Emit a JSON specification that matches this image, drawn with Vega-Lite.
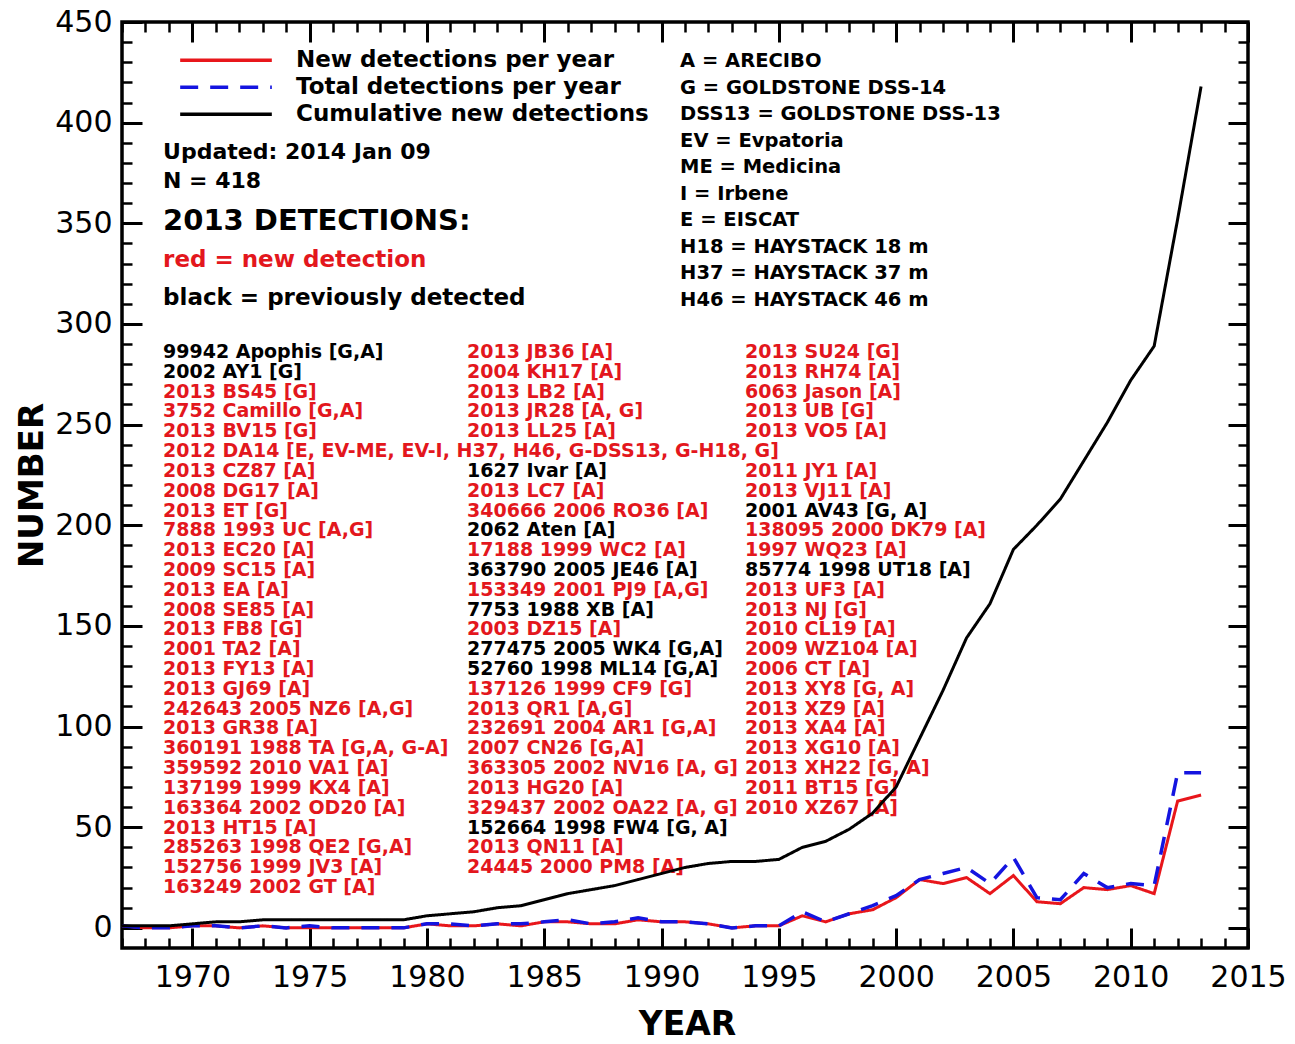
{
  "$schema": "https://vega.github.io/schema/vega-lite/v6.json",
  "width": 1126,
  "height": 926,
  "autosize": {"type": "none"},
  "padding": {"left": 122, "top": 22, "right": 47, "bottom": 96},
  "background": "white",
  "config": {
    "view": {"stroke": "black", "strokeWidth": 3.5},
    "font": "DejaVu Sans",
    "axis": {"domain": false, "grid": false, "tickColor": "black", "labelColor": "black", "titleColor": "black", "labelFont": "DejaVu Sans", "titleFont": "DejaVu Sans"},
    "text": {"font": "DejaVu Sans"}
  },
  "datasets": {
    "years": [
      {"year": 1967, "new": 1, "total": 1, "cumulative": 1},
      {"year": 1968, "new": 0, "total": 0, "cumulative": 1},
      {"year": 1969, "new": 0, "total": 0, "cumulative": 1},
      {"year": 1970, "new": 1, "total": 1, "cumulative": 2},
      {"year": 1971, "new": 1, "total": 1, "cumulative": 3},
      {"year": 1972, "new": 0, "total": 0, "cumulative": 3},
      {"year": 1973, "new": 1, "total": 1, "cumulative": 4},
      {"year": 1974, "new": 0, "total": 0, "cumulative": 4},
      {"year": 1975, "new": 0, "total": 1, "cumulative": 4},
      {"year": 1976, "new": 0, "total": 0, "cumulative": 4},
      {"year": 1977, "new": 0, "total": 0, "cumulative": 4},
      {"year": 1978, "new": 0, "total": 0, "cumulative": 4},
      {"year": 1979, "new": 0, "total": 0, "cumulative": 4},
      {"year": 1980, "new": 2, "total": 2, "cumulative": 6},
      {"year": 1981, "new": 1, "total": 2, "cumulative": 7},
      {"year": 1982, "new": 1, "total": 1, "cumulative": 8},
      {"year": 1983, "new": 2, "total": 2, "cumulative": 10},
      {"year": 1984, "new": 1, "total": 2, "cumulative": 11},
      {"year": 1985, "new": 3, "total": 3, "cumulative": 14},
      {"year": 1986, "new": 3, "total": 4, "cumulative": 17},
      {"year": 1987, "new": 2, "total": 2, "cumulative": 19},
      {"year": 1988, "new": 2, "total": 3, "cumulative": 21},
      {"year": 1989, "new": 4, "total": 5, "cumulative": 24},
      {"year": 1990, "new": 3, "total": 3, "cumulative": 27},
      {"year": 1991, "new": 3, "total": 3, "cumulative": 30},
      {"year": 1992, "new": 2, "total": 2, "cumulative": 32},
      {"year": 1993, "new": 0, "total": 0, "cumulative": 33},
      {"year": 1994, "new": 1, "total": 1, "cumulative": 33},
      {"year": 1995, "new": 1, "total": 1, "cumulative": 34},
      {"year": 1996, "new": 6, "total": 8, "cumulative": 40},
      {"year": 1997, "new": 3, "total": 3, "cumulative": 43},
      {"year": 1998, "new": 7, "total": 7, "cumulative": 49},
      {"year": 1999, "new": 9, "total": 11, "cumulative": 57},
      {"year": 2000, "new": 15, "total": 16, "cumulative": 70},
      {"year": 2001, "new": 24, "total": 24, "cumulative": 94},
      {"year": 2002, "new": 22, "total": 27, "cumulative": 118},
      {"year": 2003, "new": 25, "total": 30, "cumulative": 144},
      {"year": 2004, "new": 17, "total": 22, "cumulative": 161},
      {"year": 2005, "new": 26, "total": 35, "cumulative": 188},
      {"year": 2006, "new": 13, "total": 15, "cumulative": 200},
      {"year": 2007, "new": 12, "total": 14, "cumulative": 213},
      {"year": 2008, "new": 20, "total": 27, "cumulative": 232},
      {"year": 2009, "new": 19, "total": 20, "cumulative": 251},
      {"year": 2010, "new": 21, "total": 22, "cumulative": 272},
      {"year": 2011, "new": 17, "total": 21, "cumulative": 289},
      {"year": 2012, "new": 63, "total": 77, "cumulative": 352},
      {"year": 2013, "new": 66, "total": 77, "cumulative": 418}
    ],
    "asteroids": [
      {"name": "99942 Apophis [G,A]", "status": "previous", "column": 1, "line": 1},
      {"name": "2002 AY1 [G]", "status": "previous", "column": 1, "line": 2},
      {"name": "2013 BS45 [G]", "status": "new", "column": 1, "line": 3},
      {"name": "3752 Camillo [G,A]", "status": "new", "column": 1, "line": 4},
      {"name": "2013 BV15 [G]", "status": "new", "column": 1, "line": 5},
      {"name": "2012 DA14 [E, EV-ME, EV-I, H37, H46, G-DSS13, G-H18, G]", "status": "new", "column": 1, "line": 6},
      {"name": "2013 CZ87 [A]", "status": "new", "column": 1, "line": 7},
      {"name": "2008 DG17 [A]", "status": "new", "column": 1, "line": 8},
      {"name": "2013 ET [G]", "status": "new", "column": 1, "line": 9},
      {"name": "7888 1993 UC [A,G]", "status": "new", "column": 1, "line": 10},
      {"name": "2013 EC20 [A]", "status": "new", "column": 1, "line": 11},
      {"name": "2009 SC15 [A]", "status": "new", "column": 1, "line": 12},
      {"name": "2013 EA [A]", "status": "new", "column": 1, "line": 13},
      {"name": "2008 SE85 [A]", "status": "new", "column": 1, "line": 14},
      {"name": "2013 FB8 [G]", "status": "new", "column": 1, "line": 15},
      {"name": "2001 TA2 [A]", "status": "new", "column": 1, "line": 16},
      {"name": "2013 FY13 [A]", "status": "new", "column": 1, "line": 17},
      {"name": "2013 GJ69 [A]", "status": "new", "column": 1, "line": 18},
      {"name": "242643 2005 NZ6 [A,G]", "status": "new", "column": 1, "line": 19},
      {"name": "2013 GR38 [A]", "status": "new", "column": 1, "line": 20},
      {"name": "360191 1988 TA [G,A, G-A]", "status": "new", "column": 1, "line": 21},
      {"name": "359592 2010 VA1 [A]", "status": "new", "column": 1, "line": 22},
      {"name": "137199 1999 KX4 [A]", "status": "new", "column": 1, "line": 23},
      {"name": "163364 2002 OD20 [A]", "status": "new", "column": 1, "line": 24},
      {"name": "2013 HT15 [A]", "status": "new", "column": 1, "line": 25},
      {"name": "285263 1998 QE2 [G,A]", "status": "new", "column": 1, "line": 26},
      {"name": "152756 1999 JV3 [A]", "status": "new", "column": 1, "line": 27},
      {"name": "163249 2002 GT [A]", "status": "new", "column": 1, "line": 28},
      {"name": "2013 JB36 [A]", "status": "new", "column": 2, "line": 1},
      {"name": "2004 KH17 [A]", "status": "new", "column": 2, "line": 2},
      {"name": "2013 LB2 [A]", "status": "new", "column": 2, "line": 3},
      {"name": "2013 JR28 [A, G]", "status": "new", "column": 2, "line": 4},
      {"name": "2013 LL25 [A]", "status": "new", "column": 2, "line": 5},
      {"name": "1627 Ivar [A]", "status": "previous", "column": 2, "line": 7},
      {"name": "2013 LC7 [A]", "status": "new", "column": 2, "line": 8},
      {"name": "340666 2006 RO36 [A]", "status": "new", "column": 2, "line": 9},
      {"name": "2062 Aten [A]", "status": "previous", "column": 2, "line": 10},
      {"name": "17188 1999 WC2 [A]", "status": "new", "column": 2, "line": 11},
      {"name": "363790 2005 JE46 [A]", "status": "previous", "column": 2, "line": 12},
      {"name": "153349 2001 PJ9 [A,G]", "status": "new", "column": 2, "line": 13},
      {"name": "7753 1988 XB [A]", "status": "previous", "column": 2, "line": 14},
      {"name": "2003 DZ15 [A]", "status": "new", "column": 2, "line": 15},
      {"name": "277475 2005 WK4 [G,A]", "status": "previous", "column": 2, "line": 16},
      {"name": "52760 1998 ML14 [G,A]", "status": "previous", "column": 2, "line": 17},
      {"name": "137126 1999 CF9 [G]", "status": "new", "column": 2, "line": 18},
      {"name": "2013 QR1 [A,G]", "status": "new", "column": 2, "line": 19},
      {"name": "232691 2004 AR1 [G,A]", "status": "new", "column": 2, "line": 20},
      {"name": "2007 CN26 [G,A]", "status": "new", "column": 2, "line": 21},
      {"name": "363305 2002 NV16 [A, G]", "status": "new", "column": 2, "line": 22},
      {"name": "2013 HG20 [A]", "status": "new", "column": 2, "line": 23},
      {"name": "329437 2002 OA22 [A, G]", "status": "new", "column": 2, "line": 24},
      {"name": "152664 1998 FW4 [G, A]", "status": "previous", "column": 2, "line": 25},
      {"name": "2013 QN11 [A]", "status": "new", "column": 2, "line": 26},
      {"name": "24445 2000 PM8 [A]", "status": "new", "column": 2, "line": 27},
      {"name": "2013 SU24 [G]", "status": "new", "column": 3, "line": 1},
      {"name": "2013 RH74 [A]", "status": "new", "column": 3, "line": 2},
      {"name": "6063 Jason [A]", "status": "new", "column": 3, "line": 3},
      {"name": "2013 UB [G]", "status": "new", "column": 3, "line": 4},
      {"name": "2013 VO5 [A]", "status": "new", "column": 3, "line": 5},
      {"name": "2011 JY1 [A]", "status": "new", "column": 3, "line": 7},
      {"name": "2013 VJ11 [A]", "status": "new", "column": 3, "line": 8},
      {"name": "2001 AV43 [G, A]", "status": "previous", "column": 3, "line": 9},
      {"name": "138095 2000 DK79 [A]", "status": "new", "column": 3, "line": 10},
      {"name": "1997 WQ23 [A]", "status": "new", "column": 3, "line": 11},
      {"name": "85774 1998 UT18 [A]", "status": "previous", "column": 3, "line": 12},
      {"name": "2013 UF3 [A]", "status": "new", "column": 3, "line": 13},
      {"name": "2013 NJ [G]", "status": "new", "column": 3, "line": 14},
      {"name": "2010 CL19 [A]", "status": "new", "column": 3, "line": 15},
      {"name": "2009 WZ104 [A]", "status": "new", "column": 3, "line": 16},
      {"name": "2006 CT [A]", "status": "new", "column": 3, "line": 17},
      {"name": "2013 XY8 [G, A]", "status": "new", "column": 3, "line": 18},
      {"name": "2013 XZ9 [A]", "status": "new", "column": 3, "line": 19},
      {"name": "2013 XA4 [A]", "status": "new", "column": 3, "line": 20},
      {"name": "2013 XG10 [A]", "status": "new", "column": 3, "line": 21},
      {"name": "2013 XH22 [G, A]", "status": "new", "column": 3, "line": 22},
      {"name": "2011 BT15 [G]", "status": "new", "column": 3, "line": 23},
      {"name": "2010 XZ67 [A]", "status": "new", "column": 3, "line": 24}
    ],
    "stations": [
      {"label": "A = ARECIBO", "line": 1},
      {"label": "G = GOLDSTONE DSS-14", "line": 2},
      {"label": "DSS13 = GOLDSTONE DSS-13", "line": 3},
      {"label": "EV = Evpatoria", "line": 4},
      {"label": "ME = Medicina", "line": 5},
      {"label": "I = Irbene", "line": 6},
      {"label": "E = EISCAT", "line": 7},
      {"label": "H18 = HAYSTACK 18 m", "line": 8},
      {"label": "H37 = HAYSTACK 37 m", "line": 9},
      {"label": "H46 = HAYSTACK 46 m", "line": 10}
    ],
    "notes": [
      {"text": "Updated: 2014 Jan 09", "kind": "meta", "line": 1},
      {"text": "N = 418", "kind": "meta", "line": 2},
      {"text": "2013 DETECTIONS:", "kind": "heading", "line": 3},
      {"text": "red = new detection", "kind": "new", "line": 4},
      {"text": "black = previously detected", "kind": "previous", "line": 5}
    ]
  },
  "layer": [
    {
      "data": {"name": "asteroids"},
      "transform": [{"filter": "datum.status === 'new'"}],
      "mark": {"type": "text", "align": "left", "baseline": "middle", "fontSize": 19, "fontWeight": "bold", "color": "#e3171d"},
      "encoding": {
        "x": {"field": "column", "type": "quantitative", "scale": {"domain": [1, 2, 3], "range": [41, 345, 623]}, "axis": null},
        "y": {"field": "line", "type": "quantitative", "scale": {"domain": [1, 28], "range": [330, 865]}, "axis": null},
        "text": {"field": "name"}
      }
    },
    {
      "data": {"name": "asteroids"},
      "transform": [{"filter": "datum.status === 'previous'"}],
      "mark": {"type": "text", "align": "left", "baseline": "middle", "fontSize": 19, "fontWeight": "bold", "color": "black"},
      "encoding": {
        "x": {"field": "column", "type": "quantitative", "scale": {"domain": [1, 2, 3], "range": [41, 345, 623]}, "axis": null},
        "y": {"field": "line", "type": "quantitative", "scale": {"domain": [1, 28], "range": [330, 865]}, "axis": null},
        "text": {"field": "name"}
      }
    },
    {
      "data": {"name": "stations"},
      "mark": {"type": "text", "align": "left", "baseline": "middle", "fontSize": 19.5, "fontWeight": "bold", "color": "black"},
      "encoding": {
        "x": {"datum": 1990.79, "type": "quantitative", "scale": {"domain": [1967, 2015], "nice": false, "zero": false}, "axis": null},
        "y": {"field": "line", "type": "quantitative", "scale": {"domain": [1, 10], "range": [39, 278]}, "axis": null},
        "text": {"field": "label"}
      }
    },
    {
      "data": {"name": "notes"},
      "transform": [{"filter": "datum.kind === 'meta'"}],
      "mark": {"type": "text", "align": "left", "baseline": "middle", "fontSize": 22, "fontWeight": "bold", "color": "black"},
      "encoding": {
        "x": {"datum": 1968.75, "type": "quantitative", "scale": {"domain": [1967, 2015], "nice": false, "zero": false}, "axis": null},
        "y": {"field": "line", "type": "quantitative", "scale": {"domain": [1, 2, 3, 4, 5], "range": [130, 159, 199, 238, 276]}, "axis": null},
        "text": {"field": "text"}
      }
    },
    {
      "data": {"name": "notes"},
      "transform": [{"filter": "datum.kind === 'heading'"}],
      "mark": {"type": "text", "align": "left", "baseline": "middle", "fontSize": 29, "fontWeight": "bold", "color": "black"},
      "encoding": {
        "x": {"datum": 1968.75, "type": "quantitative", "scale": {"domain": [1967, 2015], "nice": false, "zero": false}, "axis": null},
        "y": {"field": "line", "type": "quantitative", "scale": {"domain": [1, 2, 3, 4, 5], "range": [130, 159, 199, 238, 276]}, "axis": null},
        "text": {"field": "text"}
      }
    },
    {
      "data": {"name": "notes"},
      "transform": [{"filter": "datum.kind === 'new'"}],
      "mark": {"type": "text", "align": "left", "baseline": "middle", "fontSize": 23, "fontWeight": "bold", "color": "#e3171d"},
      "encoding": {
        "x": {"datum": 1968.75, "type": "quantitative", "scale": {"domain": [1967, 2015], "nice": false, "zero": false}, "axis": null},
        "y": {"field": "line", "type": "quantitative", "scale": {"domain": [1, 2, 3, 4, 5], "range": [130, 159, 199, 238, 276]}, "axis": null},
        "text": {"field": "text"}
      }
    },
    {
      "data": {"name": "notes"},
      "transform": [{"filter": "datum.kind === 'previous'"}],
      "mark": {"type": "text", "align": "left", "baseline": "middle", "fontSize": 23, "fontWeight": "bold", "color": "black"},
      "encoding": {
        "x": {"datum": 1968.75, "type": "quantitative", "scale": {"domain": [1967, 2015], "nice": false, "zero": false}, "axis": null},
        "y": {"field": "line", "type": "quantitative", "scale": {"domain": [1, 2, 3, 4, 5], "range": [130, 159, 199, 238, 276]}, "axis": null},
        "text": {"field": "text"}
      }
    },
    {
      "mark": {"type": "rule", "color": "black", "strokeWidth": 3},
      "encoding": {
        "x": {"datum": 1967, "type": "quantitative", "scale": {"domain": [1967, 2015], "nice": false, "zero": false},
              "axis": {"orient": "top", "values": [1967,1968,1969,1970,1971,1972,1973,1974,1975,1976,1977,1978,1979,1980,1981,1982,1983,1984,1985,1986,1987,1988,1989,1990,1991,1992,1993,1994,1995,1996,1997,1998,1999,2000,2001,2002,2003,2004,2005,2006,2007,2008,2009,2010,2011,2012,2013,2014,2015], "labels": false, "tickSize": -10, "tickWidth": 2.5, "title": null}},
        "x2": {"datum": 2015},
        "y": {"datum": 0, "type": "quantitative", "scale": {"domain": [-10, 450], "nice": false, "zero": false},
              "axis": {"orient": "right", "values": [0,10,20,30,40,50,60,70,80,90,100,110,120,130,140,150,160,170,180,190,200,210,220,230,240,250,260,270,280,290,300,310,320,330,340,350,360,370,380,390,400,410,420,430,440,450], "labels": false, "tickSize": -10, "tickWidth": 2.5, "title": null}}
      }
    },
    {
      "data": {"name": "years"},
      "mark": {"type": "line", "strokeWidth": 3},
      "encoding": {
        "x": {"field": "year", "type": "quantitative", "scale": {"domain": [1967, 2015], "nice": false, "zero": false},
              "axis": {"orient": "bottom", "values": [1970,1975,1980,1985,1990,1995,2000,2005,2010,2015], "format": "d", "labelFontSize": 30, "labelPadding": 34, "labelFlush": false, "labelOverlap": false, "labelBound": false, "tickSize": -20, "tickWidth": 3, "title": "YEAR", "titleFontSize": 33, "titleFontWeight": "bold", "titleX": 565, "titleY": 76, "titleAlign": "center", "titleBaseline": "middle"}},
        "y": {"field": "new", "type": "quantitative", "scale": {"domain": [-10, 450], "nice": false, "zero": false},
              "axis": {"orient": "left", "values": [0,50,100,150,200,250,300,350,400,450], "labelFontSize": 30, "labelPadding": 30, "labelFlush": false, "labelOverlap": false, "labelBound": false, "tickSize": -20, "tickWidth": 3, "title": "NUMBER", "titleFontSize": 34, "titleFontWeight": "bold", "titleX": -90, "titleY": 463, "titleAngle": 270, "titleAlign": "center", "titleBaseline": "middle"}},
        "color": {"datum": "New detections per year", "type": "nominal",
                  "scale": {"domain": ["New detections per year", "Total detections per year", "Cumulative new detections"], "range": ["#e8161b", "#1414e0", "black"]},
                  "legend": {"orient": "none", "legendX": 56, "legendY": 25, "title": null, "symbolType": "stroke", "symbolSize": 8400, "symbolStrokeWidth": 3.5, "labelFontSize": 23, "labelFont": "DejaVu Sans", "labelFontWeight": "bold", "labelColor": "black", "labelOffset": 22, "labelLimit": 600, "rowPadding": 0, "clipHeight": 26.5, "padding": 0}},
        "strokeDash": {"datum": "New detections per year", "type": "nominal",
                  "scale": {"domain": ["New detections per year", "Total detections per year", "Cumulative new detections"], "range": [[1, 0], [18, 12], [1, 0]]},
                  "legend": {"orient": "none", "legendX": 56, "legendY": 25, "title": null, "symbolType": "stroke", "symbolSize": 8400, "symbolStrokeWidth": 3.5, "labelFontSize": 23, "labelFont": "DejaVu Sans", "labelFontWeight": "bold", "labelColor": "black", "labelOffset": 22, "labelLimit": 600, "rowPadding": 0, "clipHeight": 26.5, "padding": 0}}
      }
    },
    {
      "data": {"name": "years"},
      "mark": {"type": "line", "strokeWidth": 3.5},
      "encoding": {
        "x": {"field": "year", "type": "quantitative", "scale": {"domain": [1967, 2015], "nice": false, "zero": false},
              "axis": {"orient": "bottom", "values": [1967,1968,1969,1970,1971,1972,1973,1974,1975,1976,1977,1978,1979,1980,1981,1982,1983,1984,1985,1986,1987,1988,1989,1990,1991,1992,1993,1994,1995,1996,1997,1998,1999,2000,2001,2002,2003,2004,2005,2006,2007,2008,2009,2010,2011,2012,2013,2014,2015], "labels": false, "tickSize": -10, "tickWidth": 2.5, "title": null}},
        "y": {"field": "total", "type": "quantitative", "scale": {"domain": [-10, 450], "nice": false, "zero": false},
              "axis": {"orient": "left", "values": [0,10,20,30,40,50,60,70,80,90,100,110,120,130,140,150,160,170,180,190,200,210,220,230,240,250,260,270,280,290,300,310,320,330,340,350,360,370,380,390,400,410,420,430,440,450], "labels": false, "tickSize": -10, "tickWidth": 2.5, "title": null}},
        "color": {"datum": "Total detections per year", "type": "nominal"},
        "strokeDash": {"datum": "Total detections per year", "type": "nominal"}
      }
    },
    {
      "data": {"name": "years"},
      "mark": {"type": "line", "strokeWidth": 3},
      "encoding": {
        "x": {"field": "year", "type": "quantitative", "scale": {"domain": [1967, 2015], "nice": false, "zero": false},
              "axis": {"orient": "top", "values": [1970,1975,1980,1985,1990,1995,2000,2005,2010,2015], "labels": false, "tickSize": -20, "tickWidth": 3, "title": null}},
        "y": {"field": "cumulative", "type": "quantitative", "scale": {"domain": [-10, 450], "nice": false, "zero": false},
              "axis": {"orient": "right", "values": [0,50,100,150,200,250,300,350,400,450], "labels": false, "tickSize": -20, "tickWidth": 3, "title": null}},
        "color": {"datum": "Cumulative new detections", "type": "nominal"},
        "strokeDash": {"datum": "Cumulative new detections", "type": "nominal"}
      }
    }
  ],
  "resolve": {"scale": {"x": "independent", "y": "independent"}, "axis": {"x": "independent", "y": "independent"}}
}
